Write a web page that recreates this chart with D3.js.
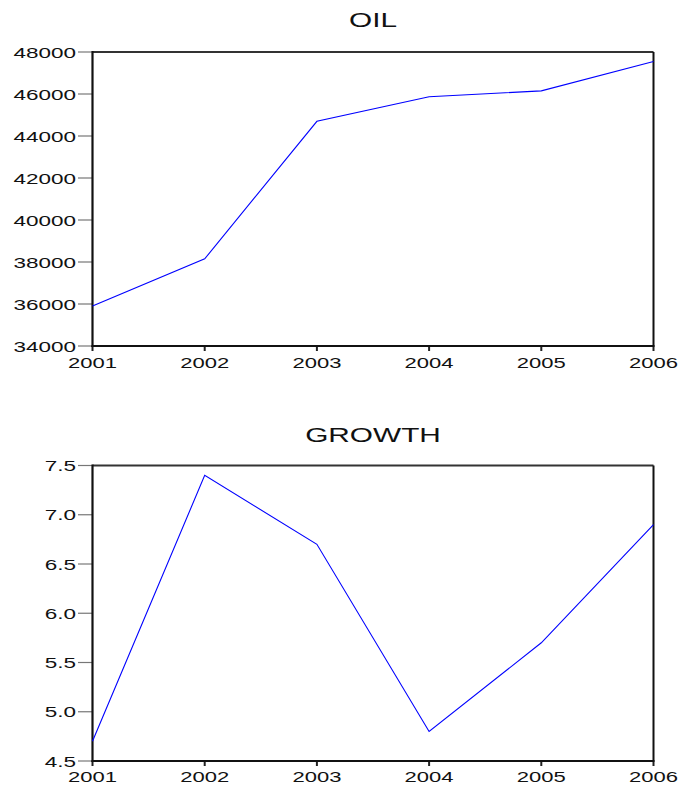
<!DOCTYPE html>
<html>
<head>
<meta charset="utf-8">
<script src="https://cdn.jsdelivr.net/npm/d3@7"></script>
<style>
  html, body { margin: 0; padding: 0; background: #fff; overflow: hidden; }
  svg { display: block; }
  text { font-family: "Liberation Sans", Arial, sans-serif; fill: #111; }
</style>
</head>
<body>
<svg id="chart" width="679" height="785"></svg>
<script>
const years = [2001, 2002, 2003, 2004, 2005, 2006];
const oilValues = [35900, 38150, 44700, 45870, 46150, 47550];
const growthValues = [4.7, 7.4, 6.7, 4.8, 5.7, 6.9];
const oilTicks = [34000, 36000, 38000, 40000, 42000, 44000, 46000, 48000];
const growthTicks = [4.5, 5.0, 5.5, 6.0, 6.5, 7.0, 7.5];
const oilTitle = "OIL";
const growthTitle = "GROWTH";

const svg = d3.select("#chart");
const left = 92.5, right = 653.5;
const x = d3.scaleLinear().domain([years[0], years[years.length - 1]]).range([left, right]);

function stretchedText(g, tx, ty, str, size, sx, anchor) {
  g.append("text")
    .attr("transform", `translate(${tx},${ty}) scale(${sx},1)`)
    .attr("text-anchor", anchor)
    .attr("font-size", size)
    .text(str);
}

function panel(cfg) {
  const g = svg.append("g");
  const y = d3.scaleLinear().domain(cfg.domain).range([cfg.bottom, cfg.top]);

  // title
  stretchedText(g, (left + right) / 2, cfg.titleY, cfg.title, 21, 1.42, "middle");

  // y ticks and labels
  cfg.ticks.forEach(t => {
    const yy = y(t);
    g.append("line").attr("x1", 78).attr("x2", left).attr("y1", yy).attr("y2", yy)
      .attr("stroke", "#777").attr("stroke-width", 1.2);
    stretchedText(g, 76, yy + 5.5, cfg.fmt(t), 15, 1.5, "end");
  });

  // x ticks and labels
  years.forEach(yr => {
    const xx = x(yr);
    g.append("line").attr("x1", xx).attr("x2", xx).attr("y1", cfg.bottom).attr("y2", cfg.bottom + 5)
      .attr("stroke", "#222").attr("stroke-width", 2);
    stretchedText(g, xx, cfg.bottom + cfg.labelOffset, String(yr), 14.5, 1.52, "middle");
  });

  // frame
  g.append("line").attr("x1", left).attr("x2", right).attr("y1", cfg.top).attr("y2", cfg.top)
    .attr("stroke", "#333").attr("stroke-width", 2);
  g.append("line").attr("x1", right).attr("x2", right).attr("y1", cfg.top).attr("y2", cfg.bottom)
    .attr("stroke", "#111").attr("stroke-width", 2);
  g.append("line").attr("x1", left).attr("x2", left).attr("y1", cfg.top - 1).attr("y2", cfg.bottom + 1)
    .attr("stroke", "#111").attr("stroke-width", 2.2);
  g.append("line").attr("x1", left - 1).attr("x2", right + 1).attr("y1", cfg.bottom).attr("y2", cfg.bottom)
    .attr("stroke", "#111").attr("stroke-width", 2.2);

  // series line
  const line = d3.line().x((d, i) => x(years[i])).y(d => y(d));
  g.append("path").datum(cfg.values).attr("d", line)
    .attr("fill", "none").attr("stroke", "#0000ff").attr("stroke-width", 1.1);
}

panel({
  title: oilTitle, titleY: 27, top: 52, bottom: 346, labelOffset: 22,
  domain: [34000, 48000], ticks: oilTicks, values: oilValues,
  fmt: d => String(d)
});
panel({
  title: growthTitle, titleY: 442, top: 465.5, bottom: 761, labelOffset: 21,
  domain: [4.5, 7.5], ticks: growthTicks, values: growthValues,
  fmt: d => d.toFixed(1)
});
</script>
</body>
</html>
